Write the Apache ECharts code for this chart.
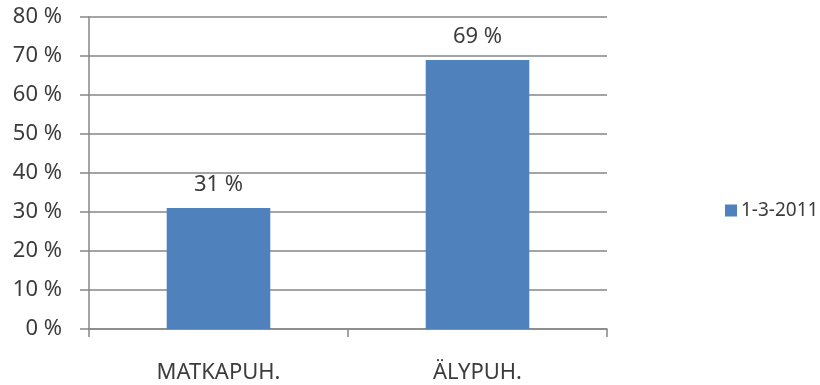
<!DOCTYPE html>
<html>
<head>
<meta charset="utf-8">
<script src="https://cdn.jsdelivr.net/npm/echarts@6/dist/echarts.min.js"></script>
<style>html,body{margin:0;padding:0;background:#fff}#c{width:820px;height:385px}</style>
</head>
<body>
<div id="c"></div>
<script>
const categories = ['MATKAPUH.', 'ÄLYPUH.'];
const seriesName = '1-3-2011';
const values = [31, 69];
const yTicks = [0, 10, 20, 30, 40, 50, 60, 70, 80];

const chart = echarts.init(document.getElementById('c'), null, {renderer: 'canvas'});
const txt = '#3c3c3c';
const font = 'Noto Sans';
chart.setOption({
  animation: false,
  backgroundColor: '#fff',
  grid: {left: 89, right: 213, top: 17, bottom: 56, containLabel: false},
  legend: {
    data: [seriesName],
    left: 720, top: 196,
    itemWidth: 12, itemHeight: 12, itemGap: 5,
    icon: 'rect',
    textStyle: {color: txt, fontFamily: font, fontSize: 19, padding: [0,0,0,-1]}
  },
  xAxis: {
    type: 'category',
    data: categories,
    axisLine: {show: true, lineStyle: {color: '#868686', width: 1.5}},
    axisTick: {show: true, alignWithLabel: false, length: 8, lineStyle: {color: '#868686', width: 1.5}},
    axisLabel: {color: txt, fontFamily: font, fontSize: 22, margin: 33},
    splitLine: {show: false}
  },
  yAxis: {
    type: 'value',
    min: yTicks[0], max: yTicks[yTicks.length - 1], interval: 10,
    axisLine: {show: true, lineStyle: {color: '#868686', width: 1.5}},
    axisTick: {show: true, inside: false, length: 9, lineStyle: {color: '#868686', width: 1.5}},
    axisLabel: {color: txt, fontFamily: font, fontSize: 22, margin: 27, formatter: '{value} %'},
    splitLine: {show: true, lineStyle: {color: '#868686', width: 1.5}}
  },
  series: [{
    name: seriesName,
    type: 'bar',
    data: values,
    barWidth: '40%',
    itemStyle: {color: '#4F81BD'},
    label: {show: true, position: 'top', distance: 12, color: txt, fontFamily: font, fontSize: 22, formatter: '{c} %'}
  }]
});
</script>
</body>
</html>
